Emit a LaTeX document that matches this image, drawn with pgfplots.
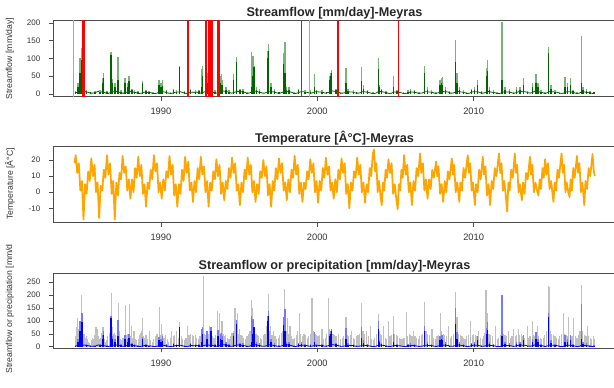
\documentclass[border=0pt]{standalone}
\usepackage{fontspec}
\setmainfont{Liberation Sans}
\usepackage{pgfplots}
\usepackage{pgfplotstable}
\pgfplotsset{compat=1.18}
\definecolor{dgreen}{RGB}{0,100,0}
\definecolor{lgreen}{RGB}{120,180,120}
\definecolor{rorange}{RGB}{255,165,0}
\definecolor{rblue}{RGB}{0,0,255}
\definecolor{lblue}{RGB}{120,120,255}
\definecolor{pgray}{RGB}{165,165,165}
\definecolor{lred}{RGB}{255,130,130}

\pgfplotstableread{
x peak core
1984.55 8 5
1984.70 30 20
1984.82 100 60
1984.95 130 95
1985.25 12 8
1985.50 6 4
1985.80 8 5
1986.10 10 6
1986.25 45 30
1986.32 60 45
1986.55 8 5
1986.82 118 110
1986.92 42 30
1987.05 30 20
1987.27 103 40
1987.45 10 6
1987.70 44 30
1987.85 30 20
1987.97 50 35
1988.15 15 10
1988.30 10 6
1988.55 8 5
1988.83 37 32
1989.05 12 8
1989.25 8 5
1989.50 4 3
1989.87 38 25
1990.00 30 20
1990.10 40 22
1990.35 12 8
1990.60 5 3
1990.80 15 10
1991.00 10 6
1991.20 78 75
1991.50 8 5
1991.90 15 10
1992.20 10 6
1992.45 12 8
1992.60 70 18
1992.65 78 50
1992.95 60 30
1993.20 76 60
1993.45 10 6
1993.66 65 40
1993.80 50 30
1993.87 55 25
1993.95 40 25
1994.15 20 12
1994.35 10 6
1994.65 55 40
1994.84 105 90
1995.05 15 10
1995.25 15 8
1995.50 5 3
1995.80 118 20
1995.88 108 50
1995.95 78 76
1996.10 20 12
1996.30 15 8
1996.83 120 100
1996.88 140 120
1997.05 30 20
1997.25 15 8
1997.55 6 4
1997.85 115 85
1997.92 147 60
1998.00 20 12
1998.20 18 12
1998.50 5 3
1998.80 15 10
1999.00 20 12
1999.20 10 6
1999.55 10 6
1999.82 57 20
1999.95 12 8
2000.30 10 6
2000.60 6 4
2000.80 50 40
2000.85 60 50
2000.92 68 60
2001.20 15 10
2001.50 5 3
2001.84 73 30
2001.95 15 8
2002.30 10 6
2002.50 6 4
2002.84 75 35
2002.97 25 15
2003.20 12 8
2003.55 4 3
2003.90 100 70
2003.97 25 18
2004.10 15 10
2004.40 8 5
2004.87 51 20
2005.10 12 8
2005.50 4 3
2005.80 10 6
2005.95 15 8
2006.20 12 8
2006.50 5 3
2006.85 80 60
2007.05 20 12
2007.30 10 6
2007.60 5 3
2007.85 40 25
2007.95 45 30
2008.02 47 25
2008.20 20 12
2008.45 8 5
2008.85 151 90
2008.93 58 30
2009.10 20 12
2009.35 10 6
2009.55 5 3
2009.85 15 10
2010.05 20 12
2010.25 40 25
2010.50 8 5
2010.83 73 50
2010.88 95 65
2011.00 20 12
2011.25 10 6
2011.50 4 3
2011.80 202 40
2012.00 20 12
2012.30 15 8
2012.55 5 3
2012.75 20 12
2012.95 20 12
2013.20 45 25
2013.45 8 5
2013.75 30 20
2013.97 56 30
2014.10 30 18
2014.30 10 6
2014.55 5 3
2014.77 132 115
2014.80 128 110
2014.95 25 15
2015.20 10 6
2015.50 5 3
2015.85 47 20
2016.00 30 18
2016.20 45 25
2016.35 12 8
2016.60 5 3
2016.90 164 30
2016.98 20 12
2017.20 15 8
2017.45 8 5
2017.70 6 4
}\flow

\pgfplotstableread{
x p
1984.52 40
1984.60 75
1984.68 110
1984.75 70
1984.82 60
1984.93 200
1985.02 30
1985.08 50
1985.15 35
1985.22 40
1985.30 30
1985.38 20
1985.45 15
1985.55 25
1985.62 35
1985.70 30
1985.78 45
1985.85 75
1985.92 70
1986.00 40
1986.08 30
1986.15 35
1986.22 55
1986.30 75
1986.38 30
1986.45 20
1986.52 25
1986.60 40
1986.70 55
1986.77 75
1986.84 209
1986.90 75
1986.96 50
1987.05 55
1987.12 45
1987.20 40
1987.27 168
1987.35 60
1987.42 30
1987.50 25
1987.58 35
1987.65 45
1987.76 161
1987.83 45
1987.90 50
1987.97 165
1988.05 40
1988.12 80
1988.20 35
1988.28 60
1988.35 30
1988.45 25
1988.55 30
1988.62 45
1988.70 55
1988.77 60
1988.83 110
1988.90 40
1988.97 35
1989.05 45
1989.15 30
1989.25 60
1989.35 25
1989.45 20
1989.55 30
1989.65 40
1989.75 50
1989.89 152
1989.95 45
1990.02 90
1990.10 50
1990.20 35
1990.30 45
1990.42 30
1990.50 20
1990.60 35
1990.70 60
1990.78 40
1990.88 45
1991.00 60
1991.10 35
1991.20 95
1991.30 40
1991.40 30
1991.50 25
1991.60 35
1991.70 80
1991.80 45
1991.90 50
1992.00 45
1992.10 40
1992.20 45
1992.30 35
1992.40 30
1992.50 40
1992.60 55
1992.70 273
1992.78 50
1992.85 45
1992.95 60
1993.05 50
1993.12 80
1993.20 60
1993.30 40
1993.40 35
1993.50 45
1993.60 140
1993.68 60
1993.75 130
1993.82 55
1993.90 100
1993.97 50
1994.05 40
1994.15 45
1994.25 35
1994.35 30
1994.45 40
1994.55 55
1994.65 60
1994.74 150
1994.80 70
1994.88 130
1994.95 50
1995.05 70
1995.12 45
1995.20 40
1995.30 35
1995.40 30
1995.50 40
1995.60 50
1995.70 60
1995.78 180
1995.85 150
1995.92 80
1996.00 60
1996.08 50
1996.15 45
1996.25 40
1996.35 35
1996.45 30
1996.55 45
1996.65 50
1996.75 80
1996.86 205
1996.93 60
1997.00 80
1997.10 45
1997.20 60
1997.30 40
1997.40 30
1997.50 35
1997.60 45
1997.70 55
1997.80 60
1997.92 225
1998.00 60
1998.07 110
1998.15 50
1998.25 80
1998.35 40
1998.45 30
1998.55 35
1998.65 45
1998.75 60
1998.85 130
1998.95 50
1999.05 40
1999.15 50
1999.25 45
1999.35 35
1999.45 40
1999.55 50
1999.66 190
1999.75 60
1999.85 50
1999.95 45
2000.05 40
2000.15 45
2000.30 70
2000.40 30
2000.50 35
2000.60 50
2000.72 190
2000.80 70
2000.90 60
2001.00 50
2001.10 45
2001.20 40
2001.37 50
2001.50 30
2001.60 35
2001.70 40
2001.84 115
2001.92 45
2002.00 40
2002.10 45
2002.20 60
2002.30 35
2002.40 30
2002.50 40
2002.60 45
2002.70 50
2002.84 170
2002.92 60
2003.00 50
2003.17 60
2003.25 40
2003.38 80
2003.48 30
2003.58 25
2003.68 35
2003.78 50
2003.90 125
2003.97 60
2004.05 50
2004.12 45
2004.24 80
2004.35 35
2004.45 30
2004.56 100
2004.65 40
2004.75 45
2004.87 120
2004.95 50
2005.05 45
2005.15 40
2005.25 35
2005.35 30
2005.45 30
2005.55 35
2005.69 135
2005.78 40
2005.88 50
2005.95 45
2006.05 40
2006.16 60
2006.25 40
2006.35 35
2006.45 30
2006.55 40
2006.65 45
2006.75 50
2006.85 175
2006.95 60
2007.05 50
2007.15 45
2007.34 70
2007.45 35
2007.55 30
2007.65 40
2007.75 45
2007.87 130
2007.95 60
2008.05 50
2008.15 45
2008.25 40
2008.40 80
2008.50 35
2008.60 40
2008.70 50
2008.85 210
2008.93 115
2009.05 50
2009.15 45
2009.25 40
2009.35 35
2009.45 30
2009.55 40
2009.65 45
2009.79 100
2009.90 45
2010.00 50
2010.10 45
2010.20 40
2010.33 60
2010.45 35
2010.55 30
2010.65 40
2010.72 55
2010.79 220
2010.88 130
2010.98 50
2011.10 45
2011.20 40
2011.39 80
2011.50 30
2011.60 35
2011.70 45
2011.80 150
2011.90 50
2012.00 45
2012.10 40
2012.24 60
2012.35 35
2012.45 40
2012.55 70
2012.65 40
2012.75 45
2012.87 70
2012.95 45
2013.05 50
2013.15 40
2013.25 35
2013.42 80
2013.50 35
2013.60 40
2013.74 100
2013.82 45
2013.92 40
2014.06 80
2014.15 40
2014.25 35
2014.35 30
2014.45 35
2014.55 45
2014.65 60
2014.77 235
2014.82 230
2014.90 60
2015.00 50
2015.10 45
2015.20 40
2015.30 35
2015.40 30
2015.50 40
2015.60 50
2015.72 130
2015.80 50
2015.90 45
2016.00 40
2016.08 115
2016.18 45
2016.28 40
2016.40 110
2016.50 40
2016.60 35
2016.70 45
2016.80 60
2016.90 240
2016.98 60
2017.08 45
2017.18 40
2017.26 80
2017.35 40
2017.45 35
2017.55 30
2017.65 40
2017.75 30
}\prec

\pgfplotsset{
  rstyle/.style={
    scale only axis, width=422.25pt, xmin=1983.1, xmax=2019.1,
    axis line style={black!70, line width=0.5pt},
    tick align=outside, major tick length=3pt,
    xtick pos=bottom, ytick pos=left,
    xtick={1990,2000,2010},
    /pgf/number format/1000 sep={},
    /pgf/number format/assume math mode=true,
    tick style={black!70, line width=0.5pt},
    xticklabel style={font=\fontsize{7}{8}\selectfont, text=black!80, yshift=-2pt},
    yticklabel style={font=\fontsize{6}{7}\selectfont, text=black!80, xshift=-3pt},
    title style={font=\bfseries\fontsize{9.5}{11}\selectfont, text=black!85, yshift=-8.5pt},
  }
}

\newcommand{\baseflow}{(1984.5,3)(1984.62,4)(1984.75,4)(1984.88,6)
(1985.0,6)(1985.12,7)(1985.25,5)(1985.38,4)(1985.5,2)(1985.62,2)(1985.75,3)(1985.88,5)
(1986.0,7)(1986.12,6)(1986.25,5)(1986.38,4)(1986.5,2)(1986.62,1)(1986.75,3)(1986.88,6)
(1987.0,6)(1987.12,7)(1987.25,6)(1987.38,4)(1987.5,2)(1987.62,2)(1987.75,4)(1987.88,5)
(1988.0,8)(1988.12,6)(1988.25,5)(1988.38,4)(1988.5,2)(1988.62,1)(1988.75,2)(1988.88,4)
(1989.0,5)(1989.12,4)(1989.25,4)(1989.38,3)(1989.5,1)(1989.62,1)(1989.75,2)(1989.88,5)
(1990.0,6)(1990.12,6)(1990.25,5)(1990.38,3)(1990.5,2)(1990.62,1)(1990.75,2)(1990.88,4)
(1991.0,5)(1991.12,5)(1991.25,6)(1991.38,4)(1991.5,2)(1991.62,1)(1991.75,2)(1991.88,4)
(1992.0,5)(1992.12,4)(1992.25,5)(1992.38,4)(1992.5,2)(1992.62,3)(1992.75,5)(1992.88,7)
(1993.0,7)(1993.12,6)(1993.25,6)(1993.38,4)(1993.5,2)(1993.62,3)(1993.75,6)(1993.88,7)
(1994.0,8)(1994.12,7)(1994.25,6)(1994.38,4)(1994.5,2)(1994.62,3)(1994.75,5)(1994.88,7)
(1995.0,7)(1995.12,6)(1995.25,5)(1995.38,4)(1995.5,2)(1995.62,2)(1995.75,4)(1995.88,7)
(1996.0,8)(1996.12,7)(1996.25,5)(1996.38,4)(1996.5,2)(1996.62,2)(1996.75,4)(1996.88,8)
(1997.0,7)(1997.12,6)(1997.25,5)(1997.38,3)(1997.5,2)(1997.62,2)(1997.75,4)(1997.88,7)
(1998.0,8)(1998.12,7)(1998.25,6)(1998.38,4)(1998.5,2)(1998.62,1)(1998.75,3)(1998.88,5)
(1999.0,6)(1999.12,6)(1999.25,5)(1999.38,4)(1999.5,2)(1999.62,2)(1999.75,4)(1999.88,6)
(2000.0,6)(2000.12,5)(2000.25,5)(2000.38,4)(2000.5,2)(2000.62,3)(2000.75,5)(2000.88,9)
(2001.0,8)(2001.12,7)(2001.25,6)(2001.38,4)(2001.5,2)(2001.62,2)(2001.75,3)(2001.88,6)
(2002.0,6)(2002.12,5)(2002.25,5)(2002.38,3)(2002.5,2)(2002.62,2)(2002.75,3)(2002.88,6)
(2003.0,6)(2003.12,5)(2003.25,4)(2003.38,3)(2003.5,1)(2003.62,1)(2003.75,2)(2003.88,6)
(2004.0,7)(2004.12,6)(2004.25,5)(2004.38,4)(2004.5,2)(2004.62,1)(2004.75,2)(2004.88,5)
(2005.0,5)(2005.12,4)(2005.25,4)(2005.38,3)(2005.5,1)(2005.62,1)(2005.75,2)(2005.88,4)
(2006.0,5)(2006.12,5)(2006.25,4)(2006.38,3)(2006.5,1)(2006.62,2)(2006.75,3)(2006.88,6)
(2007.0,6)(2007.12,5)(2007.25,5)(2007.38,4)(2007.5,2)(2007.62,2)(2007.75,3)(2007.88,6)
(2008.0,7)(2008.12,6)(2008.25,6)(2008.38,5)(2008.5,2)(2008.62,2)(2008.75,3)(2008.88,7)
(2009.0,7)(2009.12,6)(2009.25,5)(2009.38,4)(2009.5,2)(2009.62,1)(2009.75,2)(2009.88,5)
(2010.0,6)(2010.12,6)(2010.25,6)(2010.38,4)(2010.5,2)(2010.62,2)(2010.75,4)(2010.88,7)
(2011.0,6)(2011.12,5)(2011.25,4)(2011.38,3)(2011.5,1)(2011.62,1)(2011.75,2)(2011.88,5)
(2012.0,6)(2012.12,5)(2012.25,5)(2012.38,4)(2012.5,2)(2012.62,2)(2012.75,4)(2012.88,6)
(2013.0,7)(2013.12,6)(2013.25,6)(2013.38,5)(2013.5,3)(2013.62,2)(2013.75,4)(2013.88,7)
(2014.0,8)(2014.12,7)(2014.25,5)(2014.38,4)(2014.5,2)(2014.62,2)(2014.75,4)(2014.88,7)
(2015.0,6)(2015.12,6)(2015.25,5)(2015.38,4)(2015.5,2)(2015.62,1)(2015.75,2)(2015.88,5)
(2016.0,6)(2016.12,6)(2016.25,5)(2016.38,4)(2016.5,2)(2016.62,1)(2016.75,2)(2016.88,5)
(2017.0,6)(2017.12,5)(2017.25,4)(2017.38,3)(2017.5,2)(2017.62,1)(2017.75,2)}

\begin{document}
\begin{tikzpicture}
\useasboundingbox (0pt,0pt) rectangle (460.5pt,-290.25pt);

% ---------- Panel 1 ----------
\begin{axis}[rstyle, at={(39.75pt,-15.5pt)}, anchor=north west, height=57pt,
  ymin=-8, ymax=207, ytick={0,50,100,150,200},
  title={Streamflow [mm/day]-Meyras}]
\addplot[dgreen, line width=0.6pt] coordinates {\baseflow};
\addplot[lgreen, ycomb, line width=1.1pt] table[x=x,y=peak]{\flow};
\addplot[dgreen, ycomb, line width=1.1pt] table[x=x,y=core]{\flow};
\addplot[lred, line width=0.7pt] coordinates {(1984.44,-50) (1984.44,300)};
\addplot[red, line width=2.5pt] coordinates {(1985.05,-50) (1985.05,300)};
\addplot[red, line width=1.2pt] coordinates {(1991.74,-50) (1991.74,300)};
\addplot[red, line width=1.3pt] coordinates {(1992.86,-50) (1992.86,300)};
\addplot[red, line width=3.6pt] coordinates {(1993.16,-50) (1993.16,300)};
\addplot[red, line width=2pt] coordinates {(1993.68,-50) (1993.68,300)};
\addplot[red, line width=1.2pt] coordinates {(1998.99,-50) (1998.99,300)};
\addplot[lred, line width=0.7pt] coordinates {(1999.50,-50) (1999.50,300)};
\addplot[red, line width=1.3pt] coordinates {(2001.31,-50) (2001.31,300)};
\addplot[red, line width=0.7pt] coordinates {(2005.19,-50) (2005.19,300)};
\end{axis}

% ---------- Panel 2 ----------
\begin{axis}[rstyle, at={(39.75pt,-109.5pt)}, anchor=north west, height=57.5pt,
  ymin=-18.9, ymax=28.7, ytick={-10,0,10,20},
  title={Temperature [Â°C]-Meyras}]
\addplot[rorange, line width=1.3pt, line join=round] coordinates {
(1984.48,18)(1984.55,23)(1984.65,12)(1984.75,18)(1984.85,1)(1984.95,7)
(1985.05,-17)(1985.15,5)(1985.25,-1)(1985.35,13)(1985.45,7)(1985.55,21)(1985.65,10)(1985.75,17)(1985.85,0)(1985.95,6)
(1986.05,-16)(1986.15,4)(1986.25,1)(1986.35,14)(1986.45,9)(1986.55,23)(1986.65,11)(1986.75,18)(1986.85,-1)(1986.95,7)
(1987.05,-17)(1987.15,6)(1987.25,-2)(1987.35,12)(1987.45,8)(1987.55,22.5)(1987.65,12)(1987.75,16)(1987.85,1)(1987.95,8)
(1988.05,-4)(1988.15,8)(1988.25,0)(1988.35,15)(1988.45,9)(1988.55,22)(1988.65,10)(1988.75,17)(1988.85,-1)(1988.95,5)
(1989.05,-9)(1989.15,6)(1989.25,2)(1989.35,14)(1989.45,8)(1989.55,23)(1989.65,13)(1989.75,18)(1989.85,0)(1989.95,6)
(1990.05,-4)(1990.15,8)(1990.25,1)(1990.35,13)(1990.45,9)(1990.55,22.5)(1990.65,11)(1990.75,17)(1990.85,-2)(1990.95,5)
(1991.05,-9)(1991.15,5)(1991.25,-1)(1991.35,14)(1991.45,7)(1991.55,22)(1991.65,12)(1991.75,19)(1991.85,1)(1991.95,6)
(1992.05,-6)(1992.15,7)(1992.25,0)(1992.35,15)(1992.45,8)(1992.55,22)(1992.65,11)(1992.75,16)(1992.85,0)(1992.95,7)
(1993.05,-9)(1993.15,6)(1993.25,1)(1993.35,13)(1993.45,8)(1993.55,20.5)(1993.65,10)(1993.75,17)(1993.85,-1)(1993.95,6)
(1994.05,-5)(1994.15,7)(1994.25,2)(1994.35,15)(1994.45,9)(1994.55,21.5)(1994.65,12)(1994.75,18)(1994.85,1)(1994.95,5)
(1995.05,-8)(1995.15,6)(1995.25,0)(1995.35,14)(1995.45,8)(1995.55,21.5)(1995.65,11)(1995.75,17)(1995.85,0)(1995.95,7)
(1996.05,-6)(1996.15,5)(1996.25,-1)(1996.35,13)(1996.45,9)(1996.55,20)(1996.65,10)(1996.75,16)(1996.85,-2)(1996.95,5)
(1997.05,-9)(1997.15,7)(1997.25,1)(1997.35,15)(1997.45,8)(1997.55,21)(1997.65,12)(1997.75,18)(1997.85,1)(1997.95,6)
(1998.05,-5)(1998.15,8)(1998.25,0)(1998.35,14)(1998.45,9)(1998.55,22.5)(1998.65,11)(1998.75,17)(1998.85,-1)(1998.95,6)
(1999.05,-6)(1999.15,6)(1999.25,2)(1999.35,13)(1999.45,8)(1999.55,20.5)(1999.65,12)(1999.75,18)(1999.85,0)(1999.95,7)
(2000.05,-6.5)(2000.15,7)(2000.25,1)(2000.35,15)(2000.45,9)(2000.55,21.5)(2000.65,11)(2000.75,16)(2000.85,1)(2000.95,6)
(2001.05,-4)(2001.15,8)(2001.25,0)(2001.35,14)(2001.45,8)(2001.55,21)(2001.65,12)(2001.75,18)(2001.85,-1)(2001.95,5)
(2002.05,-10)(2002.15,6)(2002.25,1)(2002.35,13)(2002.45,9)(2002.55,21.5)(2002.65,11)(2002.75,17)(2002.85,0)(2002.95,6)
(2003.05,-6.5)(2003.15,5)(2003.25,0)(2003.35,15)(2003.45,10)(2003.55,24)(2003.63,26.5)(2003.70,13)(2003.78,18)(2003.86,0)(2003.95,7)
(2004.05,-3)(2004.12,-8)(2004.20,6)(2004.28,1)(2004.37,14)(2004.46,9)(2004.55,20.5)(2004.65,12)(2004.75,18)(2004.85,-1)(2004.95,5)
(2005.05,-4)(2005.14,-10.5)(2005.22,5)(2005.30,1)(2005.38,14)(2005.46,9)(2005.55,23)(2005.65,11)(2005.75,17)(2005.85,0)(2005.95,6)
(2006.05,-8)(2006.15,7)(2006.25,1)(2006.35,15)(2006.45,10)(2006.57,24)(2006.65,12)(2006.75,18)(2006.85,1)(2006.95,8)
(2007.05,-4)(2007.15,8)(2007.25,2)(2007.35,14)(2007.45,9)(2007.60,19)(2007.67,10)(2007.75,16)(2007.85,-1)(2007.95,5)
(2008.05,-6)(2008.15,7)(2008.25,0)(2008.35,13)(2008.45,8)(2008.60,21)(2008.67,11)(2008.75,17)(2008.85,0)(2008.95,6)
(2009.08,-6)(2009.15,6)(2009.25,1)(2009.35,15)(2009.45,9)(2009.62,23)(2009.70,12)(2009.78,18)(2009.87,1)(2009.95,6)
(2010.08,-8)(2010.15,5)(2010.25,0)(2010.35,14)(2010.45,8)(2010.58,22)(2010.66,11)(2010.75,16)(2010.85,-2)(2010.95,5)
(2011.05,-8)(2011.15,7)(2011.25,2)(2011.35,15)(2011.45,10)(2011.62,24)(2011.70,12)(2011.78,18)(2011.87,1)(2011.95,7)
(2012.05,-2)(2012.14,-12)(2012.22,6)(2012.30,1)(2012.40,14)(2012.50,9)(2012.63,24)(2012.70,12)(2012.78,17)(2012.87,0)(2012.95,5)
(2013.08,-5)(2013.15,6)(2013.25,-1)(2013.35,12)(2013.45,8)(2013.60,22)(2013.67,11)(2013.75,17)(2013.85,0)(2013.95,6)
(2014.05,1)(2014.14,-2)(2014.22,8)(2014.30,2)(2014.40,15)(2014.48,9)(2014.57,20.5)(2014.65,11)(2014.75,18)(2014.85,2)(2014.95,7)
(2015.10,-6)(2015.18,6)(2015.27,1)(2015.36,14)(2015.45,9)(2015.62,24)(2015.70,12)(2015.78,17)(2015.87,0)(2015.95,6)
(2016.05,0)(2016.13,-3)(2016.20,8)(2016.28,1)(2016.37,15)(2016.46,9)(2016.60,22.5)(2016.68,12)(2016.76,18)(2016.86,0)(2016.95,6)
(2017.07,-8)(2017.15,7)(2017.25,2)(2017.35,15)(2017.45,10)(2017.60,23.7)(2017.68,13)(2017.75,10)
};
\end{axis}

% ---------- Panel 3 ----------
\begin{axis}[rstyle, at={(39.75pt,-205pt)}, anchor=north west, height=56.25pt,
  ymin=-6, ymax=284, ytick={0,50,100,150,200,250},
  title={Streamflow or precipitation [mm/day]-Meyras}]
\addplot[pgray, ycomb, line width=0.9pt, opacity=0.7] table[x=x,y=p]{\prec};
\addplot[rblue, line width=0.6pt] coordinates {\baseflow};
\addplot[lblue, ycomb, line width=1.1pt] table[x=x,y=peak]{\flow};
\addplot[rblue, ycomb, line width=1.1pt] table[x=x,y=core]{\flow};
\end{axis}

% y labels
\node[rotate=90, font=\fontsize{6.5}{7}\selectfont, text=black!80] at (7.5pt,-44pt) {Streamflow [mm/day]};
\node[rotate=90, font=\fontsize{6.5}{7}\selectfont, text=black!80] at (7.5pt,-138pt) {Temperature [Â°C]};
\node[rotate=90, anchor=west, font=\fontsize{6.5}{7}\selectfont, text=black!80] at (7.5pt,-283.5pt) {Streamflow or precipitation [mm/d};
\end{tikzpicture}
\end{document}
